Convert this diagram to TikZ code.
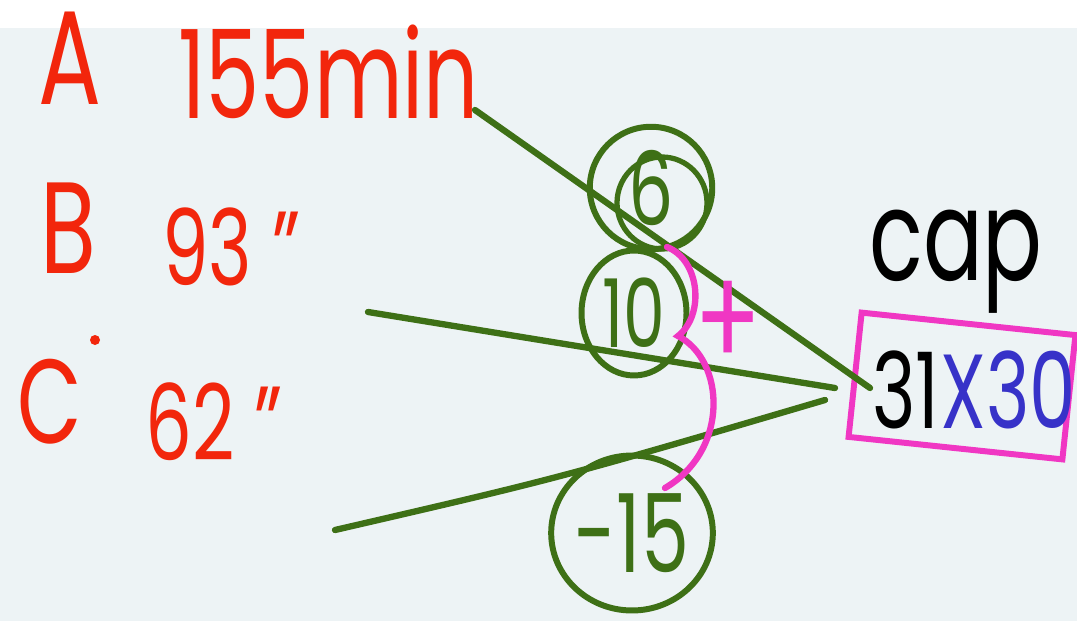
\documentclass[tikz,border=0pt]{standalone}
\usepackage{graphicx}
\usepackage{fontspec}
\setmainfont{Poppins}
\usetikzlibrary{positioning,shapes.geometric,calc}
\definecolor{inkred}{RGB}{242,38,12}
\definecolor{inkgreen}{RGB}{62,112,22}
\definecolor{inkpink}{RGB}{240,55,195}
\definecolor{inkblue}{RGB}{55,50,200}
\definecolor{board}{RGB}{237,243,245}
\newcommand{\narrowink}[1]{\scalebox{0.7}[1]{#1}}

\begin{document}
\begin{tikzpicture}[x=0.02cm,y=-0.02cm,
    hand/.style={text=inkred,inner sep=0pt},
    ring/.style={draw=inkgreen,line width=3.4pt,ellipse,text=inkgreen,inner sep=0pt},
    wire/.style={draw=inkgreen,line width=3.6pt,line cap=round}
  ]
  \fill[white] (0,0) rectangle (1077,621);
  \fill[board] (0,28) rectangle (1077,621);
  \useasboundingbox (0,0) rectangle (1077,621);

  % labels on the left
  \node[hand,font=\fontsize{76}{76}\selectfont] (lA) at (70,58) {\narrowink{A}};
  \node[hand,font=\fontsize{70}{70}\selectfont,anchor=west] (tA) at (178,72) {\narrowink{155min}};
  \node[hand,font=\fontsize{74}{74}\selectfont] (lB) at (68,228) {\narrowink{B}};
  \node[hand,font=\fontsize{60}{60}\selectfont,anchor=west] (tB) at (162,247) {\narrowink{93 ''}};
  \node[hand,font=\fontsize{68}{68}\selectfont] (lC) at (50,402) {\narrowink{C}};
  \fill[inkred] (95,340) circle (5);
  \node[hand,font=\fontsize{60}{60}\selectfont,anchor=west] (tC) at (145,422) {\narrowink{62 ''}};

  % circled numbers
  \node[ring,minimum width=2.45cm,minimum height=2.45cm,font=\fontsize{58}{58}\selectfont] (r6) at (651,188) {\narrowink{6}};
  \draw[inkgreen,line width=3pt] (662,203) ellipse (45 and 46);
  \node[ring,minimum width=2.1cm,minimum height=2.5cm,font=\fontsize{54}{54}\selectfont] (r10) at (634,313) {\narrowink{10}};
  \node[ring,minimum width=3cm,minimum height=3.1cm,font=\fontsize{62}{62}\selectfont] (r15) at (632,533) {\narrowink{-15}};

  % result box
  \node[draw=inkpink,line width=3.4pt,minimum width=4.3cm,minimum height=2.5cm,rotate=-6] (prod) at (962,386) {};
  \node[font=\fontsize{60}{60}\selectfont,inner sep=0pt] (left) at (906,390) {\narrowink{31}};
  \node[font=\fontsize{60}{60}\selectfont,inner sep=0pt,text=inkblue,right=0pt of left] (right) {\narrowink{X30}};
  \node[font=\fontsize{72}{72}\selectfont,inner sep=0pt] (cap) at (956,262) {\narrowink{cap}};

  % connectors
  \coordinate (aOut) at (475,110);
  \coordinate (bOut) at (368,312);
  \coordinate (cOut) at (335,530);
  \coordinate (aIn) at (870,388);
  \coordinate (bIn) at (835,388);
  \coordinate (cIn) at (825,400);
  \draw[wire] (aOut) -- (aIn);
  \draw[wire] (bOut) -- (bIn);
  \draw[wire] (cOut) .. controls (560,478) .. (cIn);

  % sum brace
  \draw[inkpink,line width=3.6pt,line cap=round]
    (667,247) .. controls (700,260) and (705,315) .. (678,336)
    .. controls (725,360) and (730,450) .. (665,488);
  \node[text=inkpink,font=\fontsize{80}{80}\selectfont,inner sep=0pt] (plus) at (728,325) {\narrowink{+}};
\end{tikzpicture}
\end{document}
